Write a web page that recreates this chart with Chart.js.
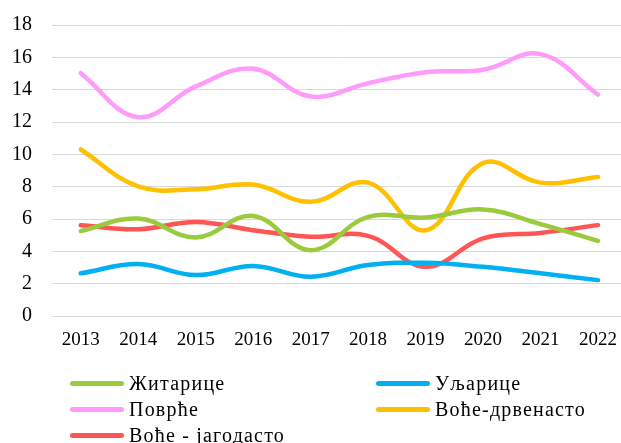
<!DOCTYPE html>
<html>
<head>
<meta charset="utf-8">
<script src="https://cdn.jsdelivr.net/npm/chart.js@4.4.1/dist/chart.umd.min.js"></script>
<style>
  html, body { margin: 0; padding: 0; background: #ffffff; }
  #wrap { position: relative; width: 621px; height: 443px; overflow: hidden; }
  #box { position: absolute; left: 0; top: -7px; width: 630px; height: 450px; }
  #legend {
    position: absolute; left: 70px; top: 370px;
    display: grid; grid-template-columns: 306px 220px; row-gap: 0px;
    font-family: "Liberation Serif", serif; font-size: 20px; letter-spacing: 1.2px; color: #000;
  }
  .item { display: flex; align-items: center; height: 26px; white-space: nowrap; }
  .swatch { width: 54px; height: 5px; border-radius: 3px; margin-right: 5px; }
</style>
</head>
<body>
<div id="wrap">
  <div id="box"><canvas id="chart"></canvas></div>
  <div id="legend"></div>
</div>
<script>
const YEARS = ["2013", "2014", "2015", "2016", "2017", "2018", "2019", "2020", "2021", "2022"];
const Y_TICKS = [0, 2, 4, 6, 8, 10, 12, 14, 16, 18];

const zitarice = [5.25, 6.03, 4.86, 6.19, 4.07, 6.13, 6.09, 6.59, 5.68, 4.65];
const uljarice = [2.64, 3.21, 2.53, 3.10, 2.43, 3.15, 3.29, 3.04, 2.64, 2.22];
const povrce = [15.02, 12.3, 14.2, 15.29, 13.58, 14.4, 15.08, 15.23, 16.2, 13.7];
const voceDrvenasto = [10.3, 8.02, 7.84, 8.13, 7.06, 8.25, 5.3, 9.46, 8.25, 8.6];
const voceJagodasto = [5.62, 5.37, 5.82, 5.31, 4.9, 4.96, 3.04, 4.8, 5.14, 5.62];

const SERIES = [
  { label: "Житарице", data: zitarice, color: "#9ACB3C" },
  { label: "Уљарице", data: uljarice, color: "#00B0F0" },
  { label: "Поврће", data: povrce, color: "#FF9BFB" },
  { label: "Воће-дрвенасто", data: voceDrvenasto, color: "#FFC000" },
  { label: "Воће - јагодасто", data: voceJagodasto, color: "#FF5555" },
];

const FONT = "'Liberation Serif', serif";

const chart = new Chart(document.getElementById("chart"), {
  type: "line",
  data: {
    labels: YEARS,
    datasets: SERIES.map((s) => ({
      label: s.label,
      data: s.data,
      borderColor: s.color,
      backgroundColor: s.color,
      borderWidth: 4.5,
      borderCapStyle: "round",
      pointRadius: 0,
      tension: 0.4,
      fill: false,
    })),
  },
  options: {
    responsive: true,
    maintainAspectRatio: false,
    animation: false,
    layout: { padding: { top: 0, bottom: 91, left: 0, right: 0 } },
    scales: {
      x: {
        offset: true,
        grid: { display: false, drawTicks: false },
        border: { display: false },
        afterFit: (scale) => {
          scale.height = 36;
        },
        ticks: {
          color: "#000",
          font: { family: FONT, size: 19 },
          padding: 13,
          maxRotation: 0,
          autoSkip: false,
        },
      },
      y: {
        min: 0,
        max: 18,
        afterBuildTicks: (scale) => {
          scale.ticks = Y_TICKS.map((v) => ({ value: v }));
        },
        afterFit: (scale) => {
          scale.width = 52;
        },
        grid: { color: "#d9d9d9", lineWidth: 1, drawTicks: false },
        border: { display: false },
        ticks: {
          color: "#000",
          font: { family: FONT, size: 20 },
          padding: 20,
        },
      },
    },
    plugins: {
      legend: { display: false },
      tooltip: { enabled: false },
    },
  },
});

// legend in two columns, like the original
const legend = document.getElementById("legend");
chart.data.datasets.forEach((ds) => {
  const item = document.createElement("div");
  item.className = "item";
  const sw = document.createElement("span");
  sw.className = "swatch";
  sw.style.background = ds.borderColor;
  const txt = document.createElement("span");
  txt.textContent = ds.label;
  item.appendChild(sw);
  item.appendChild(txt);
  legend.appendChild(item);
});
</script>
</body>
</html>
